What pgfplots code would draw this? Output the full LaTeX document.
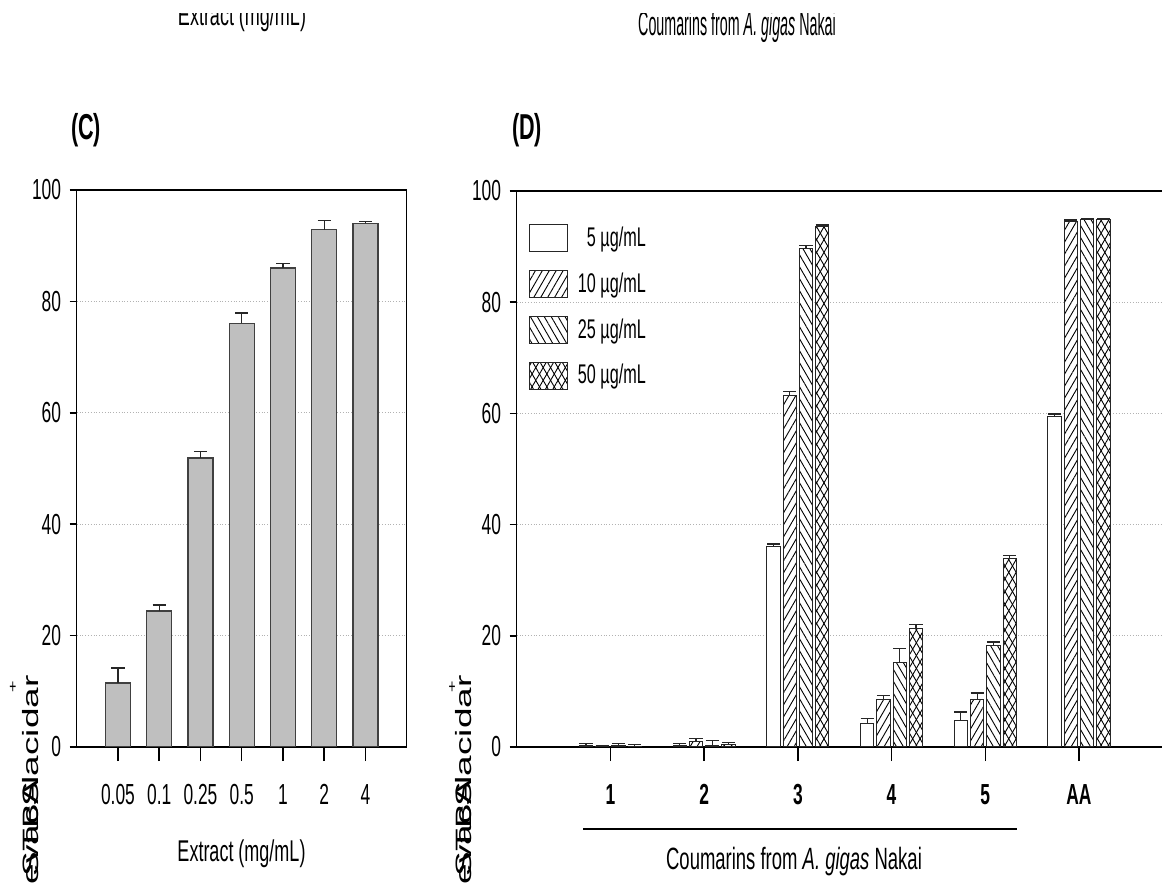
\documentclass[border=0pt]{standalone}
\usepackage{fontspec}
\setmainfont{Liberation Sans}[FakeStretch=0.6]
\newfontfamily\narrowtop{Liberation Sans}[FakeStretch=0.42]
\usepackage{graphicx}
\usepackage{pgfplots}
\usepackage{pgfplotstable}
\pgfplotsset{compat=1.18}
\usetikzlibrary{patterns.meta}

\pgfplotstableread{
x y e
1 11.5 2.7
2 24.4 1.1
3 51.9 1.2
4 76.1 1.8
5 86.0 0.8
6 92.9 1.6
7 94.0 0.3
}\tableC

\pgfplotstableread{
x y e
1 0.2 0.5
2 0.2 0.4
3 36.0 0.5
4 4.2 0.9
5 4.8 1.5
6 59.4 0.5
}\tableDa
\pgfplotstableread{
x y e
1 0.1 0.2
2 0.9 0.6
3 63.2 0.8
4 8.5 0.8
5 8.5 1.2
6 94.6 0.2
}\tableDb
\pgfplotstableread{
x y e
1 0.2 0.4
2 0.3 0.8
3 89.7 0.5
4 15.2 2.5
5 18.2 0.7
6 94.8 0.2
}\tableDc
\pgfplotstableread{
x y e
1 0.1 0.3
2 0.4 0.4
3 93.6 0.3
4 21.3 0.7
5 33.9 0.6
6 94.8 0.2
}\tableDd

\tikzset{
  s5/.style={draw=black!85, fill=white, line width=0.5pt},
  s10/.style={draw=black!85, fill=white, line width=0.5pt,
    postaction={pattern={Lines[angle=60,distance=3pt,line width=0.45pt]}}},
  s25/.style={draw=black!85, fill=white, line width=0.5pt,
    postaction={pattern={Lines[angle=-60,distance=3pt,line width=0.45pt]}}},
  s50/.style={draw=black!85, fill=white, line width=0.5pt,
    postaction={pattern={Lines[angle=60,distance=3.2pt,line width=0.45pt]}},
    postaction={pattern={Lines[angle=-60,distance=3.2pt,line width=0.45pt]}}},
}

\pgfplotsset{
  common/.style={
    scale only axis,
    anchor=south west,
    ymin=0, ymax=100,
    ytick={0,20,...,100},
    ymajorgrids,
    grid style={densely dotted, black!30, line width=0.5pt},
    tick align=outside,
    xtick pos=bottom, ytick pos=left,
    axis line style={line width=0.75pt},
    major tick style={line width=0.75pt, black},
    xtick style={/pgfplots/major tick length=7pt},
    ytick style={/pgfplots/major tick length=3.5pt},
    /pgf/number format/assume math mode=true,
    ticklabel style={font=\fontsize{14.5}{17}\selectfont},
    xticklabel style={yshift=-11pt},
  },
  errs/.style={
    error bars/.cd, y dir=plus, y explicit,
    error bar style={black!85, line width=0.6pt},
    error mark options={rotate=90, black!85, mark size=3.3pt, line width=0.6pt},
    /pgfplots/.cd,
  },
}

\begin{document}
\begin{tikzpicture}[font=\fontsize{15}{18}\selectfont]
\clip (0,0) rectangle (581pt,-443pt);

\begin{scope}[x=0.5pt,y=-0.5pt]
  \begin{scope}
    \clip (0,13.5) rectangle (1162,80);
    \node[anchor=base, inner sep=0] at (242,26) {Extract (mg/mL)};
    \node[anchor=base, inner sep=0, font=\fontsize{17}{20}\selectfont] at (737,36) {\narrowtop Coumarins from \textit{A. gigas} Nakai};
  \end{scope}
  \node[inner sep=0, font=\fontsize{18}{21}\selectfont\bfseries] at (86,130) {(C)};
  \node[inner sep=0, font=\fontsize{18}{21}\selectfont\bfseries] at (527,130) {(D)};
  \node[anchor=base, inner sep=0] at (241.5,862) {Extract (mg/mL)};
  \node[anchor=base, inner sep=0, font=\fontsize{15.4}{18}\selectfont] at (794,870) {Coumarins from \textit{A. gigas} Nakai};
  \draw[line width=0.6pt] (583,829) -- (1017,829);
  % garbled rotated y labels
  \foreach \xx/\pp in {38.3/13, 471/452}{
    \node[rotate=90, anchor=base east, inner sep=0, font=\fontsize{18.5}{20}\selectfont] at (\xx,675) {\scalebox{1.667}[0.6]{lacidar}};
    \node[rotate=90, anchor=base east, inner sep=0, font=\fontsize{18.5}{20}\selectfont] at (\xx,779) {\scalebox{1.667}[0.6]{STBA}};
    \node[rotate=90, anchor=base east, inner sep=0, font=\fontsize{18.5}{20}\selectfont] at (\xx,781) {\scalebox{1.667}[0.6]{evacS}};
    \node[inner sep=0, font=\fontsize{10}{12}\selectfont] at (\pp,688) {+};
  }
\end{scope}

% Panel C
\begin{axis}[common,
  at={(38.35pt,-373.5pt)},
  width=165pt, height=278.5pt,
  xmin=0, xmax=8,
  xtick={1,...,7},
  xticklabels={0.05,0.1,0.25,0.5,1,2,4},
]
\addplot[ybar, bar width=12.5pt, bar shift=0pt, fill=black!25, draw=black!75, line width=0.6pt, errs]
  table[x=x, y=y, y error=e] {\tableC};
\end{axis}

% Panel D
\begin{axis}[common,
  at={(258.35pt,-373.5pt)},
  width=328pt, height=278pt,
  xmin=0, xmax=7,
  xtick={1,...,6},
  xticklabels={\textbf{1},\textbf{2},\textbf{3},\textbf{4},\textbf{5},\textbf{AA}},
  legend style={at={(0.0187,0.94)}, anchor=north west, draw=none, fill=none,
    inner sep=0pt, outer sep=0pt, nodes={inner sep=0pt}, column sep=5pt, row sep=9pt,
    font=\fontsize{13.5}{15}\selectfont},
  legend cell align=left,
]
\addplot[forget plot, ybar, bar width=6.65pt, bar shift=0pt, s5, errs]
  table[x expr=\thisrow{x}-0.2604, y=y, y error=e] {\tableDa};
\addplot[forget plot, ybar, bar width=6.65pt, bar shift=0pt, s10, errs]
  table[x expr=\thisrow{x}-0.0869, y=y, y error=e] {\tableDb};
\addplot[forget plot, ybar, bar width=6.65pt, bar shift=0pt, s25, errs]
  table[x expr=\thisrow{x}+0.0869, y=y, y error=e] {\tableDc};
\addplot[forget plot, ybar, bar width=6.65pt, bar shift=0pt, s50, errs]
  table[x expr=\thisrow{x}+0.2604, y=y, y error=e] {\tableDd};
\addlegendimage{legend image code/.code={\draw[s5] (0pt,-6.7pt) rectangle (19pt,6.7pt);}}
\addlegendentry{\hphantom{1}5 µg/mL}
\addlegendimage{legend image code/.code={\draw[s10] (0pt,-6.7pt) rectangle (19pt,6.7pt);}}
\addlegendentry{10 µg/mL}
\addlegendimage{legend image code/.code={\draw[s25] (0pt,-6.7pt) rectangle (19pt,6.7pt);}}
\addlegendentry{25 µg/mL}
\addlegendimage{legend image code/.code={\draw[s50] (0pt,-6.7pt) rectangle (19pt,6.7pt);}}
\addlegendentry{50 µg/mL}
\end{axis}
\end{tikzpicture}
\end{document}
